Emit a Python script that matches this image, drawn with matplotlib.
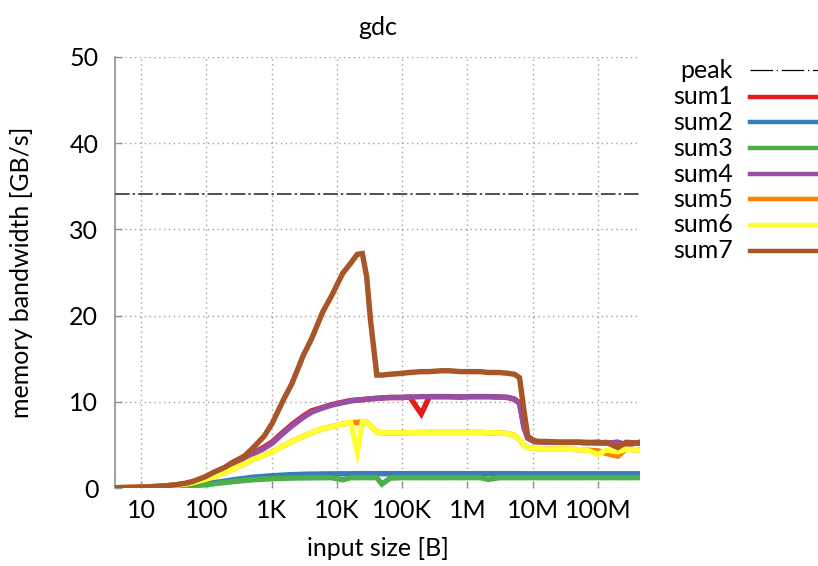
import matplotlib
matplotlib.use("Agg")
import matplotlib.pyplot as plt
from matplotlib.lines import Line2D
from matplotlib.ticker import FixedLocator, NullLocator

plt.rcParams['font.family'] = ['Lato', 'DejaVu Sans']

# ---------------- data ----------------
sizes = [4, 6, 8, 12, 16, 24, 32, 48, 64, 96,
         128, 192, 256, 384, 512, 768, 1024, 1536, 2048, 3072,
         4096, 6144, 8192, 12288, 16384, 20480, 24576, 28672, 32768, 40960,
         49152, 65536, 98304, 131072, 196608, 262144, 393216, 524288, 786432, 1048576,
         1572864, 2097152, 3145728, 4194304, 5242880, 6291456, 7340032, 8388608, 10485760, 12582912,
         16777216, 25165824, 33554432, 50331648, 67108864, 100663296, 134217728, 201326592, 268435456, 440401920]

sum1 = [0.03, 0.05, 0.07, 0.1, 0.15, 0.24, 0.32, 0.5, 0.7, 1.1,
        1.5, 2.1, 2.7, 3.4, 4.0, 4.75, 5.35, 6.55, 7.35, 8.35,
        8.95, 9.35, 9.65, 9.95, 10.15, 10.2, 10.25, 10.3, 10.35, 10.4,
        10.45, 10.5, 10.5, 10.55, 8.6, 10.6, 10.6, 10.6, 10.55, 10.6,
        10.6, 10.6, 10.55, 10.5, 10.3, 9.9, 7.2, 5.8, 5.4, 5.35,
        5.3, 5.3, 5.3, 5.3, 5.25, 5.3, 5.2, 5.3, 5.0, 5.3]

sum2 = [0.02, 0.03, 0.04, 0.06, 0.08, 0.12, 0.16, 0.24, 0.32, 0.48,
        0.6, 0.8, 0.95, 1.12, 1.25, 1.35, 1.42, 1.5, 1.55, 1.59,
        1.61, 1.63, 1.64, 1.65, 1.65, 1.66, 1.66, 1.66, 1.66, 1.66,
        1.66, 1.66, 1.66, 1.66, 1.66, 1.66, 1.66, 1.66, 1.66, 1.66,
        1.66, 1.66, 1.66, 1.66, 1.66, 1.66, 1.65, 1.65, 1.65, 1.65,
        1.65, 1.65, 1.65, 1.65, 1.65, 1.65, 1.65, 1.65, 1.65, 1.65]

sum3 = [0.02, 0.03, 0.04, 0.05, 0.07, 0.1, 0.13, 0.2, 0.26, 0.38,
        0.48, 0.63, 0.74, 0.87, 0.95, 1.03, 1.08, 1.12, 1.15, 1.17,
        1.18, 1.19, 1.2, 0.95, 1.2, 1.2, 1.2, 1.2, 1.2, 1.2,
        0.45, 1.15, 1.2, 1.2, 1.2, 1.2, 1.2, 1.2, 1.2, 1.2,
        1.2, 1.0, 1.2, 1.2, 1.2, 1.2, 1.2, 1.2, 1.2, 1.2,
        1.2, 1.2, 1.2, 1.2, 1.2, 1.2, 1.2, 1.2, 1.2, 1.2]

sum4 = [0.03, 0.05, 0.07, 0.1, 0.15, 0.24, 0.32, 0.5, 0.7, 1.1,
        1.5, 2.1, 2.6, 3.3, 3.9, 4.6, 5.2, 6.4, 7.2, 8.2,
        8.8, 9.3, 9.6, 9.9, 10.1, 10.2, 10.25, 10.3, 10.35, 10.4,
        10.45, 10.5, 10.5, 10.55, 10.6, 10.6, 10.6, 10.6, 10.55, 10.6,
        10.6, 10.6, 10.55, 10.5, 10.3, 9.8, 7.0, 5.8, 5.4, 5.35,
        5.3, 5.3, 5.3, 5.3, 5.25, 5.3, 5.2, 5.3, 5.0, 5.3]

sum5 = [0.03, 0.05, 0.07, 0.1, 0.14, 0.22, 0.3, 0.46, 0.65, 1.0,
        1.3, 1.8, 2.2, 2.8, 3.3, 3.8, 4.2, 4.9, 5.4, 6.0,
        6.4, 6.9, 7.1, 7.4, 7.6, 7.6, 7.7, 7.6, 7.2, 6.5,
        6.4, 6.4, 6.4, 6.4, 6.45, 6.45, 6.45, 6.45, 6.45, 6.45,
        6.45, 6.4, 6.4, 6.3, 6.1, 5.6, 5.0, 4.7, 4.6, 4.55,
        4.5, 4.5, 4.5, 4.45, 4.4, 4.3, 4.0, 3.7, 4.5, 4.4]

sum6 = [0.03, 0.05, 0.07, 0.1, 0.14, 0.22, 0.3, 0.46, 0.65, 1.0,
        1.3, 1.8, 2.2, 2.8, 3.3, 3.8, 4.2, 4.9, 5.4, 6.0,
        6.4, 6.9, 7.1, 7.4, 7.6, 4.2, 7.7, 7.6, 7.2, 6.5,
        6.4, 6.4, 6.4, 6.4, 6.45, 6.45, 6.45, 6.45, 6.45, 6.45,
        6.45, 6.4, 6.4, 6.3, 6.1, 5.6, 5.0, 4.7, 4.6, 4.55,
        4.5, 4.5, 4.5, 4.45, 4.4, 3.9, 4.4, 4.2, 4.5, 4.4]

sum7 = [0.03, 0.05, 0.08, 0.12, 0.18, 0.26, 0.35, 0.55, 0.8, 1.3,
        1.8, 2.4, 3.0, 3.7, 4.6, 6.0, 7.5, 10.3, 12.1, 15.4,
        17.3, 20.5, 22.2, 24.9, 26.1, 27.1, 27.2, 24.5, 19.5, 13.1,
        13.1, 13.2, 13.3, 13.4, 13.5, 13.5, 13.6, 13.6, 13.5, 13.5,
        13.5, 13.4, 13.4, 13.3, 13.2, 12.8, 9.0, 6.0, 5.5, 5.4,
        5.4, 5.3, 5.3, 5.3, 5.3, 5.2, 5.3, 4.7, 5.3, 5.2]

peak = 34.1

series_names = ["sum1", "sum2", "sum3", "sum4", "sum5", "sum6", "sum7"]
series_values = [sum1, sum2, sum3, sum4, sum5, sum6, sum7]
series_colors = ["#e41a1c", "#377eb8", "#4daf4a", "#984ea3", "#ff7f00", "#ffff33", "#a65628"]

xtick_vals = [10, 100, 1000, 10000, 100000, 1000000, 10000000, 100000000]
xtick_labels = ["10", "100", "1K", "10K", "100K", "1M", "10M", "100M"]
ytick_vals = [0, 10, 20, 30, 40, 50]

FS = 18

# ---------------- figure ----------------
fig = plt.figure(figsize=(8.18, 5.66), dpi=100)
ax = fig.add_axes([115 / 818, 1 - 488 / 566, (640 - 115) / 818, (488 - 57) / 566])

ax.set_xscale('log')
ax.set_xlim(4, 440401920)
ax.set_ylim(0, 50)

for name, vals, col in zip(series_names, series_values, series_colors):
    ax.plot(sizes, vals, color=col, lw=3.9, solid_joinstyle='miter', zorder=3)

ax.axhline(peak, color='#505050', lw=1.4, dashes=(7.5, 1.6, 1.2, 1.6), zorder=4)

ax.xaxis.set_major_locator(FixedLocator(xtick_vals))
ax.xaxis.set_minor_locator(NullLocator())
ax.set_xticklabels(xtick_labels)
ax.set_yticks(ytick_vals)

ax.grid(True, which='major', color='#a0a0a0', lw=1.0, ls=(0, (1, 2.5)))
ax.set_axisbelow(True)
for s in ['top', 'right', 'bottom']:
    ax.spines[s].set_visible(False)
ax.spines['left'].set_color('#909090')
ax.spines['left'].set_linewidth(1.2)
ax.tick_params(axis='both', direction='in', length=5, color='#909090', width=1.0,
               labelsize=FS, colors='#909090', labelcolor='black')
ax.tick_params(axis='x', pad=8)
ax.tick_params(axis='y', pad=12)

ax.set_title("gdc", fontsize=FS, pad=16)
ax.set_xlabel("input size [B]", fontsize=FS, va='center')
ax.set_ylabel("memory bandwidth [GB/s]", fontsize=FS, va='center')
ax.xaxis.set_label_coords(0.5, (488 - 549) / 431)
ax.yaxis.set_label_coords((21 - 115) / 525, 0.5)

# ---------------- legend (text then line, right-aligned text) ----------------
legend_labels = ["peak"] + series_names
legend_rows_px = [70, 97, 122, 148, 174, 199, 225, 251]
for i, lab in enumerate(legend_labels):
    yf = 1 - legend_rows_px[i] / 566
    fig.text(733 / 818, yf, lab, ha='right', va='center', fontsize=FS)
    if i == 0:
        ln = Line2D([750 / 818, 818 / 818], [yf, yf], transform=fig.transFigure,
                    color='black', lw=0.9, dashes=(18, 3, 1, 3))
    else:
        ln = Line2D([750 / 818, 818 / 818], [yf, yf], transform=fig.transFigure,
                    color=series_colors[i - 1], lw=3.2)
    fig.add_artist(ln)

fig.savefig("out.png", dpi=100)
